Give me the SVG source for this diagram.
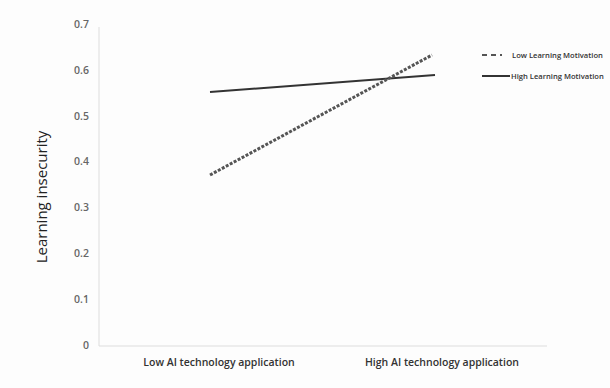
<svg xmlns="http://www.w3.org/2000/svg" width="610" height="388" viewBox="0 0 610 388">
<style>
.tick{font-family:"Open Sans","Liberation Sans",sans-serif;font-size:10.5px;fill:#666;text-anchor:end;font-weight:600}
.xl{font-family:"Open Sans","Liberation Sans",sans-serif;font-size:10.5px;fill:#333;font-weight:600;text-anchor:middle}
.leg{font-family:"Open Sans","Liberation Sans",sans-serif;font-size:7.6px;fill:#333;font-weight:600}
.axis{stroke:#ddd;stroke-width:1;fill:none}
.solid{stroke:#333;stroke-width:2;fill:none}
.dash{stroke:#555;stroke-width:3;stroke-dasharray:3 1.5;fill:none}
</style>
<rect width="610" height="388" fill="#fdfdfd"/>
<g id="axes">
<line class="axis" x1="99" y1="27" x2="99" y2="346"/>
<line class="axis" x1="99" y1="346" x2="547" y2="346"/>
<text class="tick" x="89" y="28">0.7</text>
<text class="tick" x="89" y="74">0.6</text>
<text class="tick" x="89" y="120">0.5</text>
<text class="tick" x="89" y="165">0.4</text>
<text class="tick" x="89" y="211">0.3</text>
<text class="tick" x="89" y="257">0.2</text>
<text class="tick" x="89" y="303">0.1</text>
<text class="tick" x="89" y="349">0</text>
<text x="0" y="0" transform="translate(47,197) rotate(-90)" style="font-family:'Open Sans','Liberation Sans',sans-serif;font-size:15px;fill:#222;text-anchor:middle">Learning insecurity</text>
<text class="xl" x="219" y="366">Low AI technology application</text>
<text class="xl" x="442" y="366">High AI technology application</text>
</g>
<g id="series">
<line class="solid" x1="210" y1="92" x2="435" y2="75"/>
<line class="dash" x1="210" y1="175" x2="432" y2="55"/>
</g>
<g id="legend">
<line class="dash" x1="482" y1="55" x2="502" y2="55" style="stroke-dasharray:5 4;stroke-width:2"/>
<text class="leg" x="512" y="57.5">Low Learning Motivation</text>
<line class="solid" x1="482" y1="76" x2="510" y2="76"/>
<text class="leg" x="511" y="78.5">High Learning Motivation</text>
</g>
</svg>
